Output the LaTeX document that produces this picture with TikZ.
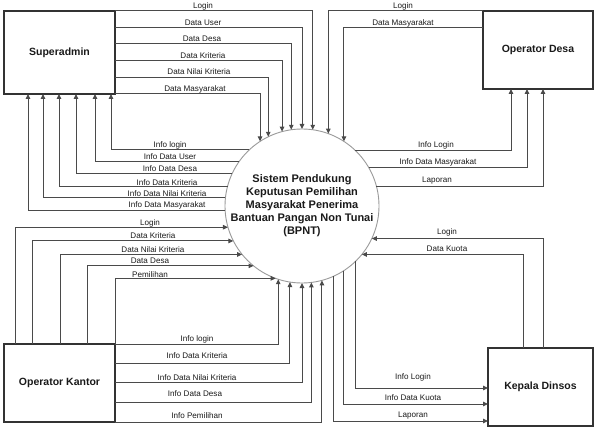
\documentclass[tikz,border=0pt]{standalone}
\usepackage{fontspec}
\setmainfont{Liberation Sans}
\usetikzlibrary{arrows.meta}
\definecolor{linec}{HTML}{4A4A4A}
\definecolor{boxc}{HTML}{333333}
\definecolor{circc}{HTML}{9A9A9A}
\definecolor{txt}{HTML}{1A1A1A}
\tikzset{
  flow/.style={draw=linec, line width=1pt, -{Triangle[length=5pt,width=4.5pt]}},
  lbl/.style={font=\fontsize{8.1}{9}\selectfont, text=txt, inner sep=0.5pt},
  ent/.style={draw=boxc, line width=1.3pt, fill=white, rectangle, inner sep=0pt, outer sep=0pt,
              font=\bfseries\fontsize{10.5}{12}\selectfont, text=txt},
  proc/.style={draw=circc, line width=0.9pt, circle, minimum size=154pt, inner sep=0pt, outer sep=0pt, fill=white},
  proctext/.style={font=\bfseries\fontsize{11}{13}\selectfont, align=center, text=txt, inner sep=0pt}
}
\begin{document}
\begin{tikzpicture}[x=1pt,y=-1pt]
\useasboundingbox[fill=white] (0,0) rectangle (595,428);

% entities
\node[ent, minimum width=111pt, minimum height=83pt] (sa) at (59.5,52.5) {Superadmin};
\node[ent, minimum width=110pt, minimum height=78pt] (od) at (538,50) {Operator Desa};
\node[ent, minimum width=111pt, minimum height=78pt] (ok) at (59.5,383) {Operator Kantor};
\node[ent, minimum width=105pt, minimum height=78pt] (kd) at (540.5,387) {Kepala Dinsos};

% process
\node[proc] (c) at (302,206) {};
\node[proctext] (ctext) at (c.center) {Sistem Pendukung\\Keputusan Pemilihan\\Masyarakat Penerima\\Bantuan Pangan Non Tunai\\(BPNT)};

% Superadmin -> system
\draw[flow] (sa.north east) -| (c.82.5);
\draw[flow] (sa.east |- 0,28) -| (c.90.7);
\draw[flow] (sa.east |- 0,44) -| (c.98.2);
\draw[flow] (sa.east |- 0,61) -| (c.105.8);
\draw[flow] (sa.east |- 0,78) -| (c.116.2);
\draw[flow] (sa.south east) -| (c.123.1);
% system -> Superadmin
\draw[flow] (c.133.3) -| (sa.south -| 111,0);
\draw[flow] (c.145.2) -| (sa.south -| 95,0);
\draw[flow] (c.155.45) -| (sa.south -| 76,0);
\draw[flow] (c.165.7) -| (sa.south -| 59,0);
\draw[flow] (c.174.0) -| (sa.south -| 43,0);
\draw[flow] (c.183.0) -| (sa.south -| 28,0);

% Operator Desa
\draw[flow] (od.north west) -| (c.70.3);
\draw[flow] (od.west |- 0,28) -| (c.57.8);
\draw[flow] (c.46.66) -| (od.south -| 511,0);
\draw[flow] (c.30.43) -| (od.south -| 527,0);
\draw[flow] (c.15.05) -| (od.south -| 543,0);

% Operator Kantor -> system (left)
\draw[flow] (ok.north -| 15,0) |- (c.196.6);
\draw[flow] (ok.north -| 32,0) |- (c.207.0);
\draw[flow] (ok.north -| 60,0) |- (c.219.5);
\draw[flow] (ok.north -| 87,0) |- (c.231.2);
\draw[flow] (ok.north east) |- (c.250);
% Operator Kantor -> system (bottom)
\draw[flow] (ok.north east) -| (c.252.6);
\draw[flow] (ok.east |- 0,363) -| (c.261.8);
\draw[flow] (ok.east |- 0,382) -| (c.270);
\draw[flow] (ok.east |- 0,402) -| (c.277.5);
\draw[flow] (ok.south east) -| (c.285.8);

% Kepala Dinsos
\draw[flow] (kd.north -| 543,0) |- (c.335.45);
\draw[flow] (kd.north -| 523,0) |- (c.321.44);
\draw[flow] (c.314.53) |- (kd.west |- 0,388);
\draw[flow] (c.303.96) |- (kd.west |- 0,404);
\draw[flow] (c.294.56) |- (kd.west |- 0,421);

% labels: Superadmin
\node[lbl] (l1) at (203,6) {Login};
\node[lbl] (l2) at (203,23) {Data User};
\node[lbl] (l3) at (202,39) {Data Desa};
\node[lbl] (l4) at (203,56) {Data Kriteria};
\node[lbl] (l5) at (199,72) {Data Nilai Kriteria};
\node[lbl] (l6) at (195,89) {Data Masyarakat};
\node[lbl] (l7) at (170,145) {Info login};
\node[lbl] (l8) at (170,157) {Info Data User};
\node[lbl] (l9) at (170,169) {Info Data Desa};
\node[lbl] (l10) at (167,183) {Info Data Kriteria};
\node[lbl] (l11) at (167,193.5) {Info Data Nilai Kriteria};
\node[lbl] (l12) at (167,205) {Info Data Masyarakat};
% labels: Operator Desa
\node[lbl] (l13) at (403,6) {Login};
\node[lbl] (l14) at (403,23) {Data Masyarakat};
\node[lbl] (l15) at (436,145) {Info Login};
\node[lbl] (l16) at (438,162.5) {Info Data Masyarakat};
\node[lbl] (l17) at (437,180.5) {Laporan};
% labels: Operator Kantor
\node[lbl] (l18) at (150,223) {Login};
\node[lbl] (l19) at (153,235.5) {Data Kriteria};
\node[lbl] (l20) at (153,250) {Data Nilai Kriteria};
\node[lbl] (l21) at (150,261) {Data Desa};
\node[lbl] (l22) at (150,275) {Pemilihan};
\node[lbl] (l23) at (197,339) {Info login};
\node[lbl] (l24) at (197,356) {Info Data Kriteria};
\node[lbl] (l25) at (197,377.5) {Info Data Nilai Kriteria};
\node[lbl] (l26) at (195,394) {Info Data Desa};
\node[lbl] (l27) at (197,416) {Info Pemilihan};
% labels: Kepala Dinsos
\node[lbl] (l28) at (447,232.5) {Login};
\node[lbl] (l29) at (447,248.5) {Data Kuota};
\node[lbl] (l30) at (413,377) {Info Login};
\node[lbl] (l31) at (413,398) {Info Data Kuota};
\node[lbl] (l32) at (413,415.5) {Laporan};
\end{tikzpicture}
\end{document}
